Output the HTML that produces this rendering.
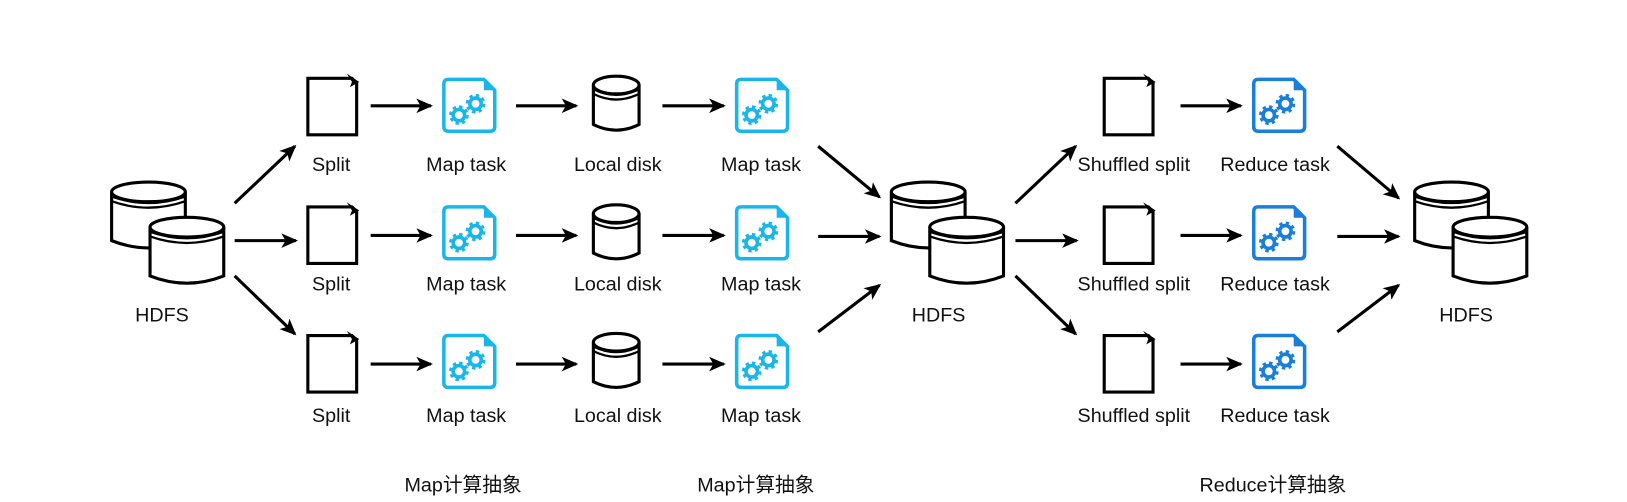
<!DOCTYPE html>
<html><head><meta charset="utf-8">
<style>
html,body{margin:0;padding:0;background:#fff;}
svg{display:block;}
text{font-family:"Liberation Sans","Noto Sans CJK SC",sans-serif;font-size:19px;fill:#111;text-anchor:middle;}
</style></head>
<body>
<svg width="1627" height="502" viewBox="0 0 1567 484" preserveAspectRatio="none" xmlns="http://www.w3.org/2000/svg">
<defs>
  <marker id="ah" markerWidth="16" markerHeight="14" refX="14" refY="7" orient="auto" markerUnits="userSpaceOnUse">
    <path d="M0,0 L16,7 L0,14 L4,7 Z" fill="#000"/>
  </marker>
  <g id="doc">
    <path d="M1.5,1.5 H44 L48.5,6 V56 H1.5 Z" fill="#fff" stroke="#000" stroke-width="3" stroke-linejoin="miter"/>
    <path d="M39,-3 L51,5 L42,10 L44,5 Z" fill="#000"/>
  </g>
  <g id="gears">
    <circle cx="16" cy="36" r="7" fill="none" stroke="currentColor" stroke-width="5" stroke-dasharray="2.8 2.7"/>
    <circle cx="16" cy="36" r="5.5" fill="none" stroke="currentColor" stroke-width="3.5"/>
    <circle cx="32" cy="25" r="7" fill="none" stroke="currentColor" stroke-width="5" stroke-dasharray="2.8 2.7"/>
    <circle cx="32" cy="25" r="5.5" fill="none" stroke="currentColor" stroke-width="3.5"/>
  </g>
  <g id="task">
    <path d="M6,1.5 H40 L50.5,12 V47 Q50.5,51.5 46,51.5 H6 Q1.5,51.5 1.5,47 V6 Q1.5,1.5 6,1.5 Z" fill="#fff" stroke="currentColor" stroke-width="3.4"/>
    <path d="M40,1.5 L50.5,12 H40 Z" fill="currentColor"/>
    <use href="#gears"/>
  </g>
  <g id="cyl">
    <path d="M1.5,11 V58 Q37,72 72.5,58 V11" fill="#fff" stroke="#000" stroke-width="3"/>
    <ellipse cx="37" cy="11" rx="35.5" ry="9.5" fill="#fff" stroke="#000" stroke-width="3"/>
    <path d="M1.5,15.5 Q37,28 72.5,15.5" fill="none" stroke="#000" stroke-width="2.2"/>
    <path d="M1.5,20 Q37,32.5 72.5,20" fill="none" stroke="#000" stroke-width="2.2"/>
  </g>
  <g id="disk">
    <path d="M1.5,10 V48 Q23.5,59 45.5,48 V10" fill="#fff" stroke="#000" stroke-width="3"/>
    <ellipse cx="23.5" cy="10" rx="22" ry="8.5" fill="#fff" stroke="#000" stroke-width="3"/>
    <path d="M1.5,14 Q23.5,25 45.5,14" fill="none" stroke="#000" stroke-width="2.2"/>
    <path d="M1.5,18.5 Q23.5,29.5 45.5,18.5" fill="none" stroke="#000" stroke-width="2.2"/>
  </g>
  <g id="hdfs">
    <use href="#cyl" x="0" y="0"/>
    <use href="#cyl" x="37" y="34"/>
  </g>
</defs>

<use href="#hdfs" x="106" y="174"/>
<use href="#hdfs" x="857" y="174"/>
<use href="#hdfs" x="1361" y="174"/>
<text x="156" y="310">HDFS</text>
<text x="904" y="310">HDFS</text>
<text x="1412" y="310">HDFS</text>

<use href="#doc" x="295" y="74"/>
<use href="#doc" x="295" y="198"/>
<use href="#doc" x="295" y="322"/>
<text x="319" y="165">Split</text>
<text x="319" y="280">Split</text>
<text x="319" y="407">Split</text>

<g color="#19b6ea">
<use href="#task" x="426" y="75"/>
<use href="#task" x="426" y="198"/>
<use href="#task" x="426" y="322"/>
<use href="#task" x="708" y="75"/>
<use href="#task" x="708" y="198"/>
<use href="#task" x="708" y="322"/>
</g>
<text x="449" y="165">Map task</text>
<text x="449" y="280">Map task</text>
<text x="449" y="407">Map task</text>
<text x="733" y="165">Map task</text>
<text x="733" y="280">Map task</text>
<text x="733" y="407">Map task</text>

<use href="#disk" x="570" y="72"/>
<use href="#disk" x="570" y="196"/>
<use href="#disk" x="570" y="320"/>
<text x="595" y="165">Local disk</text>
<text x="595" y="280">Local disk</text>
<text x="595" y="407">Local disk</text>

<use href="#doc" x="1062" y="74"/>
<use href="#doc" x="1062" y="198"/>
<use href="#doc" x="1062" y="322"/>
<text x="1092" y="165">Shuffled split</text>
<text x="1092" y="280">Shuffled split</text>
<text x="1092" y="407">Shuffled split</text>

<g color="#1a7fd9">
<use href="#task" x="1206" y="75"/>
<use href="#task" x="1206" y="198"/>
<use href="#task" x="1206" y="322"/>
</g>
<text x="1228" y="165">Reduce task</text>
<text x="1228" y="280">Reduce task</text>
<text x="1228" y="407">Reduce task</text>

<g stroke="#000" stroke-width="3" fill="none" marker-end="url(#ah)">
  <line x1="226" y1="196" x2="284" y2="141"/>
  <line x1="226" y1="232" x2="285" y2="232"/>
  <line x1="226" y1="266" x2="284" y2="322"/>

  <line x1="357" y1="102" x2="415" y2="102"/>
  <line x1="357" y1="227" x2="415" y2="227"/>
  <line x1="357" y1="351" x2="415" y2="351"/>

  <line x1="497" y1="102" x2="555" y2="102"/>
  <line x1="497" y1="227" x2="555" y2="227"/>
  <line x1="497" y1="351" x2="555" y2="351"/>

  <line x1="638" y1="102" x2="697" y2="102"/>
  <line x1="638" y1="227" x2="697" y2="227"/>
  <line x1="638" y1="351" x2="697" y2="351"/>

  <line x1="788" y1="141" x2="847" y2="190"/>
  <line x1="788" y1="228" x2="847" y2="228"/>
  <line x1="788" y1="320" x2="847" y2="275"/>

  <line x1="978" y1="196" x2="1036" y2="141"/>
  <line x1="978" y1="232" x2="1037" y2="232"/>
  <line x1="978" y1="266" x2="1036" y2="322"/>

  <line x1="1137" y1="102" x2="1195" y2="102"/>
  <line x1="1137" y1="227" x2="1195" y2="227"/>
  <line x1="1137" y1="351" x2="1195" y2="351"/>

  <line x1="1288" y1="141" x2="1347" y2="191"/>
  <line x1="1288" y1="228" x2="1347" y2="228"/>
  <line x1="1288" y1="320" x2="1347" y2="275"/>
</g>

<text x="446" y="474">Map计算抽象</text>
<text x="728" y="474">Map计算抽象</text>
<text x="1226" y="474">Reduce计算抽象</text>
</svg>
</body></html>
